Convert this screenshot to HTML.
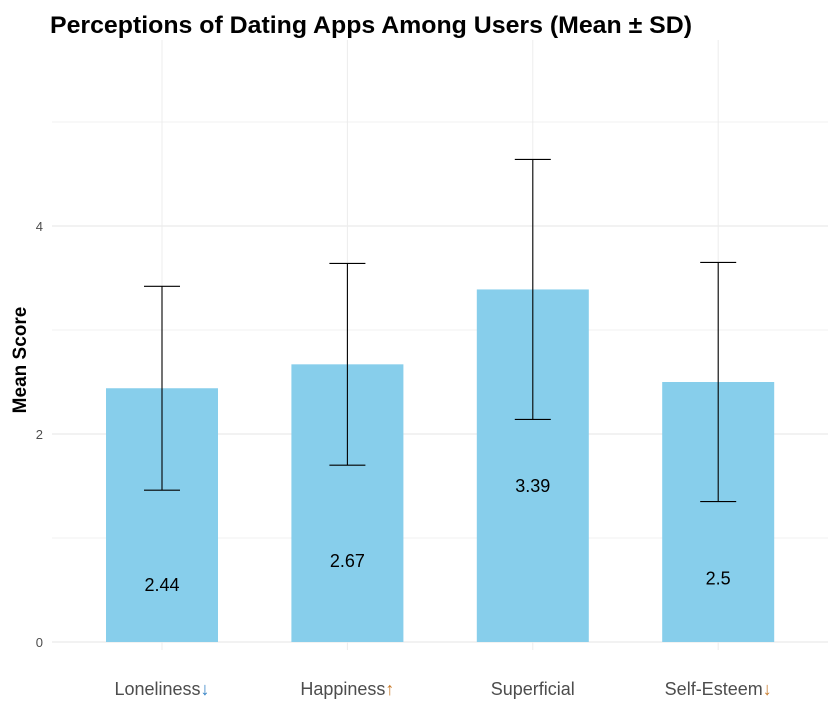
<!DOCTYPE html>
<html><head><meta charset="utf-8"><style>
body{margin:0;background:#fff;}
svg{display:block;font-family:"Liberation Sans","DejaVu Sans",sans-serif;}
</style></head><body>
<svg id="chart" width="840" height="708" viewBox="0 0 840 708">
<text x="50" y="33" font-size="24" font-weight="bold" fill="#000" textLength="642" lengthAdjust="spacingAndGlyphs">Perceptions of Dating Apps Among Users (Mean ± SD)</text>
<text transform="translate(26,360) rotate(-90)" text-anchor="middle" font-size="19" font-weight="bold" fill="#000">Mean Score</text>
<g id="grid"></g><g id="bars"></g><g id="errs"></g><g id="labels"></g><g id="axes"></g>
</svg>
<script>
const categories = ["Loneliness", "Happiness", "Superficial", "Self-Esteem"];
const arrows = ["↓", "↑", "", "↓"];
const arrowColors = ["#2f7fc4", "#c87a2a", "", "#c87a2a"];
const means = [2.44, 2.67, 3.39, 2.5];
const sds = [0.98, 0.97, 1.25, 1.15];
const yTicks = [0, 2, 4];
const yMinor = [1, 3, 5];

const NS = "http://www.w3.org/2000/svg";
const y = v => 642 - v * 104;
const x = i => 162 + i * 185.4;
const bw = 112;
function mk(tag, attrs, parent, txt){
  const e = document.createElementNS(NS, tag);
  for (const k in attrs) e.setAttribute(k, attrs[k]);
  if (txt !== undefined) e.textContent = txt;
  document.getElementById(parent).appendChild(e);
  return e;
}
yMinor.forEach(v => {
  const l = mk("line", {x1:52, x2:828, y1:y(v), y2:y(v), stroke:"#f0f0f0", "stroke-width":1}, "grid");
  
  
});
yTicks.forEach(v => {
  const l = mk("line", {x1:52, x2:828, y1:y(v), y2:y(v), stroke:"#e6e6e6", "stroke-width":1}, "grid");
  
  
  const t = mk("text", {x:43, y:y(v)+5, "text-anchor":"end", "font-size":13, fill:"#4d4d4d"}, "axes", String(v));
  
  
});
categories.forEach((c, i) => {
  const g = mk("line", {x1:x(i), x2:x(i), y1:40, y2:650, stroke:"#ececec", "stroke-width":1}, "grid");
  
  
  const r = mk("rect", {x:x(i)-bw/2, y:y(means[i]), width:bw, height:y(0)-y(means[i]), fill:"#87ceeb"}, "bars");
  
  
  const top = y(means[i] + sds[i]), bot = y(means[i] - sds[i]);
  const e = mk("path", {d:`M${x(i)-18},${top}H${x(i)+18}M${x(i)},${top}V${bot}M${x(i)-18},${bot}H${x(i)+18}`, stroke:"#000", "stroke-width":1.1, fill:"none"}, "errs");
  
  
  const lb = mk("text", {x:x(i), y:y(means[i] - 1.88) + 7, "text-anchor":"middle", "font-size":18, fill:"#000"}, "labels", String(means[i]));
  
  
  const xt = mk("text", {x:x(i), y:695, "text-anchor":"middle", "font-size":18, fill:"#4d4d4d"}, "axes");
  
  
  const s1 = document.createElementNS(NS, "tspan"); s1.textContent = c; xt.appendChild(s1);
  if (arrows[i]) { const s2 = document.createElementNS(NS, "tspan"); s2.textContent = arrows[i]; s2.setAttribute("fill", arrowColors[i]); s2.setAttribute("font-weight", "bold"); xt.appendChild(s2); }
});
</script>
</body></html>
